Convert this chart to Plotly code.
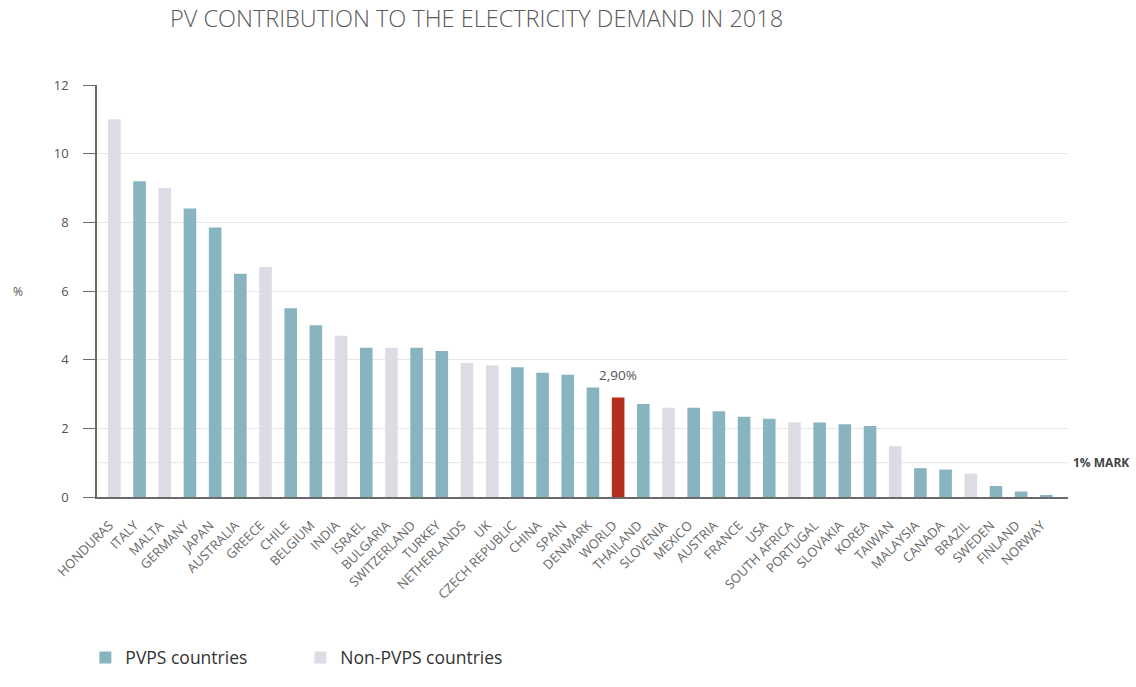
import plotly.graph_objects as go

# PV share of electricity demand, 2018 (%)
countries = [
    "HONDURAS", "ITALY", "MALTA", "GERMANY", "JAPAN", "AUSTRALIA", "GREECE",
    "CHILE", "BELGIUM", "INDIA", "ISRAEL", "BULGARIA", "SWITZERLAND", "TURKEY",
    "NETHERLANDS", "UK", "CZECH REPUBLIC", "CHINA", "SPAIN", "DENMARK", "WORLD",
    "THAILAND", "SLOVENIA", "MEXICO", "AUSTRIA", "FRANCE", "USA", "SOUTH AFRICA",
    "PORTUGAL", "SLOVAKIA", "KOREA", "TAIWAN", "MALAYSIA", "CANADA", "BRAZIL",
    "SWEDEN", "FINLAND", "NORWAY",
]
share = [
    11.0, 9.2, 9.0, 8.4, 7.85, 6.5, 6.7,
    5.5, 5.0, 4.7, 4.35, 4.35, 4.35, 4.25,
    3.9, 3.84, 3.78, 3.62, 3.56, 3.19, 2.9,
    2.71, 2.6, 2.6, 2.5, 2.34, 2.28, 2.17,
    2.17, 2.12, 2.07, 1.48, 0.84, 0.80, 0.68,
    0.32, 0.16, 0.06,
]
# P = IEA PVPS member, N = non-member, W = world average
group = [
    "N", "P", "N", "P", "P", "P", "N",
    "P", "P", "N", "P", "N", "P", "P",
    "N", "N", "P", "P", "P", "P", "W",
    "P", "N", "P", "P", "P", "P", "N",
    "P", "P", "P", "N", "P", "P", "N",
    "P", "P", "P",
]
y_ticks = [0, 2, 4, 6, 8, 10, 12]
mark_level = 1

PVPS_COLOR = "#88b4c0"
NON_PVPS_COLOR = "#dcdce4"
WORLD_COLOR = "#b5301c"
GRID = "#e6e6e6"
AXIS = "#6a6a6a"
FONT = "Open Sans"


def subset(code):
    xs = [c for c, g in zip(countries, group) if g == code]
    ys = [v for v, g in zip(share, group) if g == code]
    return xs, ys


fig = go.Figure()
for code, name, color, show in [
    ("P", "PVPS countries", PVPS_COLOR, True),
    ("N", "Non-PVPS countries", NON_PVPS_COLOR, True),
    ("W", "World", WORLD_COLOR, False),
]:
    xs, ys = subset(code)
    fig.add_trace(go.Bar(
        x=xs, y=ys, name=name, width=0.5,
        marker=dict(color=color, line=dict(width=0)),
        showlegend=show, hoverinfo="x+y",
    ))

world_value = share[countries.index("WORLD")]

fig.update_layout(
    width=1136, height=687,
    margin=dict(l=97, r=68, t=85, b=179),
    paper_bgcolor="white", plot_bgcolor="white",
    barmode="overlay",
    font=dict(family=FONT, color="#555555"),
    title=dict(
        text="PV CONTRIBUTION TO THE ELECTRICITY DEMAND IN 2018",
        x=170 / 1136, xanchor="left", xref="container",
        y=1 - 19 / 687, yanchor="middle", yref="container",
        font=dict(family=FONT, size=23.5, color="#5a5a5a", weight=300),
    ),
    xaxis=dict(
        type="category",
        categoryorder="array", categoryarray=countries,
        range=[-0.69, 37.86],
        tickangle=-45,
        tickfont=dict(family=FONT, size=13, color="#666666"),
        ticks="", ticklabelstandoff=14, ticklabelshift=-5,
        showline=True, linecolor=AXIS, linewidth=1.5,
        showgrid=False, zeroline=False,
    ),
    yaxis=dict(
        range=[0, 12],
        tickvals=y_ticks,
        tickfont=dict(family=FONT, size=13, color="#555555"),
        ticks="outside", ticklen=12, tickcolor=AXIS, tickwidth=1.2,
        ticklabelstandoff=12,
        showline=True, linecolor=AXIS, linewidth=1.5,
        showgrid=True, gridcolor=GRID, gridwidth=1,
        zeroline=False,
    ),
    legend=dict(
        orientation="h",
        x=-0.012, xanchor="left",
        y=-0.39, yanchor="middle",
        font=dict(family=FONT, size=17.5, color="#333333"),
        entrywidth=170, entrywidthmode="pixels",
        traceorder="normal",
    ),
    bargap=0.5,
)

# 1% reference line across the plot
fig.add_shape(
    type="line", xref="paper", x0=0, x1=1, yref="y",
    y0=mark_level, y1=mark_level,
    line=dict(color=GRID, width=1), layer="below",
)
# short drop of the y-axis below the baseline
fig.add_shape(
    type="line", xref="paper", x0=0, x1=0, yref="y",
    ysizemode="pixel", yanchor=0, y0=0, y1=-10,
    line=dict(color=AXIS, width=1.5),
)

fig.add_annotation(
    text="1% MARK", xref="paper", x=1, xanchor="left", xshift=3,
    yref="y", y=mark_level, yanchor="middle", showarrow=False,
    font=dict(family=FONT, size=12, color="#444444", weight="bold"),
)
fig.add_annotation(
    text="%", xref="paper", x=0, xanchor="center", xshift=-79,
    yref="y", y=6, yanchor="middle", showarrow=False,
    font=dict(family=FONT, size=12, color="#555555"),
)
fig.add_annotation(
    text=f"{world_value:.2f}%".replace(".", ","),
    x="WORLD", y=world_value, yanchor="middle", yshift=22,
    showarrow=False,
    font=dict(family=FONT, size=13.5, color="#555555"),
)

fig.write_html("out.html")
